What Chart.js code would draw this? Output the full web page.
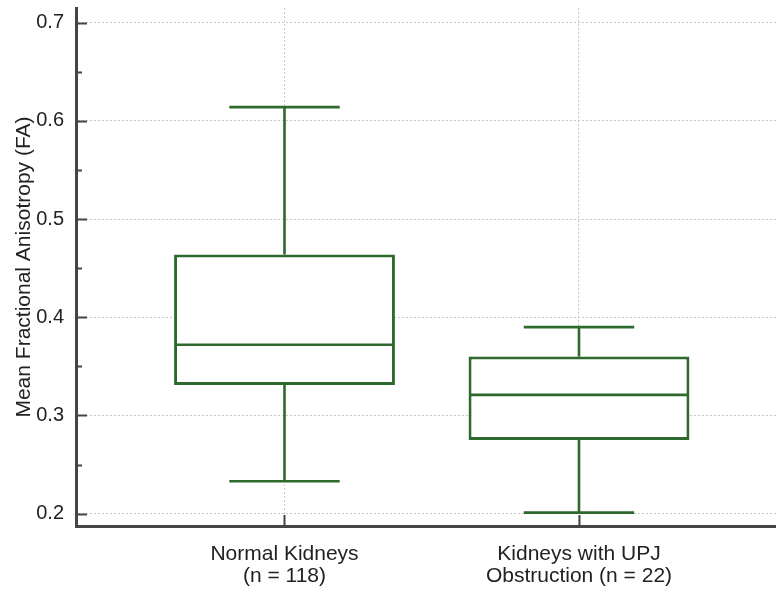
<!DOCTYPE html>
<html>
<head>
<meta charset="utf-8">
<script src="https://cdn.jsdelivr.net/npm/chart.js@4/dist/chart.umd.min.js"></script>
<style>
  html, body { margin: 0; padding: 0; background: #ffffff; }
  canvas { display: block; }
</style>
</head>
<body>
<canvas id="chart" width="776" height="590"></canvas>
<script>
// Groups and their box-plot summaries (mean FA)
const groups = [['Normal Kidneys', '(n = 118)'], ['Kidneys with UPJ', 'Obstruction (n = 22)']];
const groupPos = [1, 2];
const whiskerLow = [0.233, 0.201];
const quartile1 = [0.331, 0.275];
const medians = [0.372, 0.321];
const quartile3 = [0.464, 0.360];
const whiskerHigh = [0.614, 0.390];

// Axis ticks
const yTickValues = [0.2, 0.3, 0.4, 0.5, 0.6, 0.7];
const yMinorValues = [0.25, 0.35, 0.45, 0.55, 0.65];

const GREEN = '#2e6a2e';
const AXIS = '#454545';
const GRID = '#ccc8ca';
const FAMILY = "'Liberation Sans', Arial, Helvetica, sans-serif";
const TICK_FONT = { family: FAMILY, size: 20, lineHeight: 1.1 };
const LABEL_FONT = { family: FAMILY, size: 21, lineHeight: 1.05 };
const TEXT = '#222222';

// Whiskers, caps and median lines drawn on top of the box bars
const boxWhiskers = {
  id: 'boxWhiskers',
  afterDatasetsDraw(chart) {
    const ctx = chart.ctx;
    const xs = chart.scales.x, ys = chart.scales.y;
    const meta = chart.getDatasetMeta(0);
    ctx.save();
    ctx.strokeStyle = GREEN;
    ctx.lineCap = 'butt';
    meta.data.forEach((bar, i) => {
      const cx = xs.getPixelForValue(groupPos[i]);
      const half = bar.width / 2;
      const capHalf = half / 2;
      const yLo = ys.getPixelForValue(whiskerLow[i]);
      const yQ1 = ys.getPixelForValue(quartile1[i]);
      const yMed = ys.getPixelForValue(medians[i]);
      const yQ3 = ys.getPixelForValue(quartile3[i]);
      const yHi = ys.getPixelForValue(whiskerHigh[i]);
      ctx.lineWidth = 2.6;
      ctx.beginPath();
      // upper whisker + cap
      ctx.moveTo(cx, yQ3); ctx.lineTo(cx, yHi);
      ctx.moveTo(cx - capHalf, yHi); ctx.lineTo(cx + capHalf, yHi);
      // lower whisker + cap
      ctx.moveTo(cx, yQ1); ctx.lineTo(cx, yLo);
      ctx.moveTo(cx - capHalf, yLo); ctx.lineTo(cx + capHalf, yLo);
      ctx.stroke();
      // median
      ctx.beginPath();
      ctx.moveTo(cx - half + 1.5, yMed); ctx.lineTo(cx + half - 1.5, yMed);
      ctx.stroke();
    });
    ctx.restore();
  }
};

// Inward-pointing tick marks on both axes
const innerTicks = {
  id: 'innerTicks',
  afterDraw(chart) {
    const ctx = chart.ctx;
    const xs = chart.scales.x, ys = chart.scales.y;
    const area = chart.chartArea;
    ctx.save();
    ctx.strokeStyle = AXIS;
    ctx.lineWidth = 2;
    ctx.beginPath();
    yTickValues.forEach(v => {
      const y = Math.round(ys.getPixelForValue(v)) + 0.5;
      ctx.moveTo(area.left, y); ctx.lineTo(area.left + 11, y);
    });
    yMinorValues.forEach(v => {
      const y = Math.round(ys.getPixelForValue(v)) + 0.5;
      ctx.moveTo(area.left, y); ctx.lineTo(area.left + 6, y);
    });
    groupPos.forEach(v => {
      const x = Math.round(xs.getPixelForValue(v)) + 0.5;
      ctx.moveTo(x, area.bottom); ctx.lineTo(x, area.bottom - 11);
    });
    ctx.stroke();
    ctx.restore();
  }
};

new Chart(document.getElementById('chart'), {
  type: 'bar',
  data: {
    datasets: [{
      data: groupPos.map((x, i) => ({ x: x, y: [quartile1[i], quartile3[i]] })),
      backgroundColor: '#ffffff',
      borderColor: GREEN,
      borderWidth: 3,
      borderSkipped: false,
      categoryPercentage: 1,
      barPercentage: 0.75
    }]
  },
  options: {
    responsive: false,
    animation: false,
    devicePixelRatio: 1,
    layout: { padding: { top: 8, right: 0, left: 0, bottom: 0 } },
    plugins: { legend: { display: false }, tooltip: { enabled: false } },
    scales: {
      x: {
        type: 'linear',
        offset: false,
        min: 0.292,
        max: 2.669,
        afterBuildTicks: s => { s.ticks = groupPos.map(v => ({ value: v })); },
        afterFit: s => { s.height = 64; s.paddingLeft = 0; s.paddingRight = 0; },
        ticks: {
          callback: (v, i) => groups[i],
          font: LABEL_FONT,
          color: TEXT,
          padding: 17,
          maxRotation: 0,
          autoSkip: false
        },
        grid: { color: GRID, lineWidth: 1, drawTicks: false, offset: false },
        border: { display: true, color: AXIS, width: 3, dash: [2, 2] }
      },
      y: {
        min: 0.1874,
        max: 0.715,
        afterBuildTicks: s => { s.ticks = yTickValues.map(v => ({ value: v })); },
        afterFit: s => { s.width = 76; s.paddingTop = 0; s.paddingBottom = 0; },
        ticks: {
          callback: v => v.toFixed(1),
          font: TICK_FONT,
          color: TEXT,
          padding: 12
        },
        grid: { color: GRID, lineWidth: 1, drawTicks: false },
        border: { display: true, color: AXIS, width: 3, dash: [2, 2] },
        title: {
          display: true,
          text: 'Mean Fractional Anisotropy (FA)',
          font: { family: FAMILY, size: 21, lineHeight: 1.1 },
          color: TEXT,
          padding: { top: 13, bottom: 0 }
        }
      }
    }
  },
  plugins: [boxWhiskers, innerTicks]
});
</script>
</body>
</html>
